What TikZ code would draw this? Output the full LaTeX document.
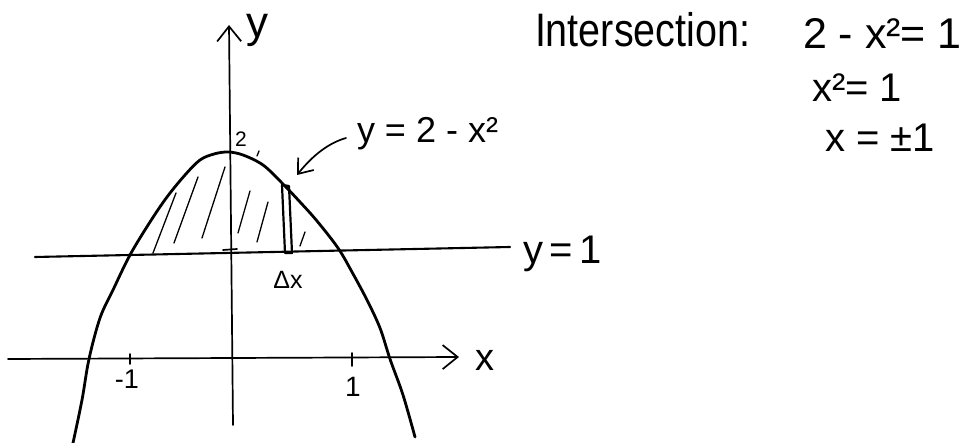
\documentclass[tikz,border=0pt]{standalone}
\usepackage{fontspec}
\usepackage{graphicx}
\setmainfont{Liberation Sans}
\usetikzlibrary{arrows.meta}
\newcommand\myfs[1]{\fontsize{#1}{#1}\selectfont}
\begin{document}
\begin{tikzpicture}[x=1pt,y=-1pt,
  axis/.style={line width=1.7pt, line cap=round},
  curve/.style={line width=2.8pt, line cap=round, line join=round},
  hatch/.style={line width=1.3pt, line cap=round},
  lbl/.style={inner sep=0pt, outer sep=0pt},
  barb/.style={-{Straight Barb[length=15pt,width=24pt,line width=1.7pt]}},
  smallbarb/.style={-{Straight Barb[length=13pt,width=20pt,line width=1.7pt]}}]
\useasboundingbox (0,0) rectangle (969,443);
% axes
\coordinate (ybot) at (233,425);
\coordinate (ytop) at (229,25);
\coordinate (xl) at (8,359);
\coordinate (xr) at (459,357);
\draw[axis,barb] (ybot) -- (ytop);
\draw[axis,barb] (xl) -- (xr);
\node[lbl] (ylab) at (257,30) {\myfs{44}y};
\node[lbl] (xlab) at (485,360) {\myfs{38}x};
% line y=1
\coordinate (l1) at (35,257);
\coordinate (l2) at (510,247);
\draw[line width=2.1pt, line cap=round] (l1) -- (l2);
\node[lbl, anchor=base west] (y1lab) at (523,264) {\myfs{40}y\,=\,1};
% ticks
\coordinate (tm1a) at (130,354);
\coordinate (tm1b) at (130,364);
\draw[axis] (tm1a) -- (tm1b);
\coordinate (tp1a) at (352,353);
\coordinate (tp1b) at (352,366);
\draw[axis] (tp1a) -- (tp1b);
\node[lbl] (m1) at (127,379) {\myfs{27}-1};
\node[lbl] (p1) at (353,387) {\myfs{28}1};
\coordinate (ta) at (223,250);
\coordinate (tb) at (237,249);
\draw[axis] (ta) -- (tb);
% parabola
\draw[curve] plot[smooth, tension=0.55] coordinates {
 (73,443) (82,400) (89,359) (100,318) (113,290) (130,255) (150,222) (167,197)
 (185,175) (200,160) (214,154) (228,152) (243,155) (263,165) (282,183)
 (300,202) (317,221) (338,248) (352,272) (367,300) (380,328) (390,359)
 (403,395) (415,437)};
% hatching
\draw[hatch] (153,253) -- (176,193);
\draw[hatch] (174,243) -- (198,177);
\draw[hatch] (202,238) -- (225,167);
\draw[hatch] (238,233) -- (250,191);
\draw[hatch] (257,242) -- (268,202);
\draw[hatch] (300,246) -- (305,232);
\draw[hatch] (257,156) -- (259,151);
% strip
\draw[line width=2.2pt, line join=round] (282,185) -- (289,186) -- (292,253) -- (285,253) -- cycle;
\node[lbl] (dx) at (288,280) {\myfs{25}Δx};
\node[lbl] (two) at (241,139) {\myfs{21}2};
% curve label and arrow
\node[lbl, anchor=base west] (flab) at (357,143) {\myfs{36}y = 2 - x²};
\coordinate (as) at (346,138);
\coordinate (ae) at (297,175);
\draw[axis,smallbarb] (as) .. controls (325,144) and (309,160) .. (ae);
% intersection text
\node[lbl, anchor=base west] (inter) at (535,47) {\myfs{47}\scalebox{0.84}[1]{Intersection:}};
\node[lbl, anchor=base west] (eq1) at (803,49) {\myfs{43}2 - x²= 1};
\node[lbl, anchor=base west] (eq2) at (812,102) {\myfs{40}x²= 1};
\node[lbl, anchor=base west] (eq3) at (825,152) {\myfs{40}x = ±1};
\end{tikzpicture}
\end{document}
